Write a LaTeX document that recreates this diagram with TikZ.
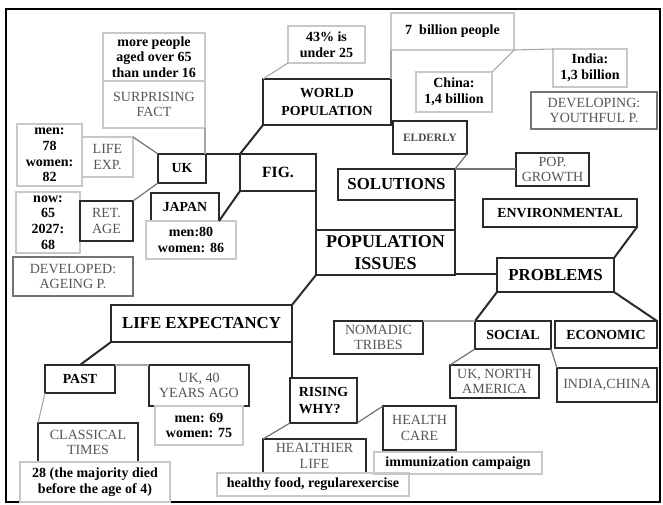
\documentclass[tikz,border=0pt]{standalone}
\usepackage{fontspec}
\setmainfont{Liberation Serif}
\definecolor{lt}{HTML}{C8C8C8}
\definecolor{gt}{HTML}{555555}
\definecolor{dk}{HTML}{2A2A2A}
\tikzset{
  every node/.style={inner sep=0pt, outer sep=0pt, align=center},
  lightbox/.style={draw=lt, line width=0.8pt},
  darkbox/.style={draw=dk, line width=1.5pt},
  heavybox/.style={draw=dk, line width=2.2pt},
  graybox/.style={draw=black!55, line width=1.8pt},
  data/.style={font=\bfseries\fontsize{10.5}{11.8}\selectfont, text=black},
  glabel/.style={font=\fontsize{10.5}{11.8}\selectfont, text=gt},
  title/.style={font=\bfseries\fontsize{10.4}{13}\selectfont},
  smalltitle/.style={font=\bfseries\fontsize{8.5}{10}\selectfont, text=black!70},
  bigish/.style={font=\bfseries\fontsize{11.7}{14}\selectfont},
  big/.style={font=\bfseries\fontsize{12.6}{15}\selectfont},
  huge/.style={font=\bfseries\fontsize{13.5}{16.3}\selectfont},
  darkline/.style={draw=dk, line width=1.5pt},
  midline/.style={draw=black!55, line width=0.9pt},
  lightline/.style={draw=black!35, line width=0.8pt},
}
\newcommand{\bx}[7]{%
  \pgfmathsetmacro{\mybw}{(#4-#2)*0.75}%
  \pgfmathsetmacro{\mybh}{(#5-#3)*0.75}%
  \node[#6, minimum width=\mybw pt, minimum height=\mybh pt] (#1) at ({(#2+#4)/2},{(#3+#5)/2}) {#7};}
\begin{document}
\begin{tikzpicture}[x=0.75pt,y=-0.75pt]
\useasboundingbox (0,0) rectangle (663,504);
\draw[line width=1.5pt, black] (6,9) rectangle (660,502);
% left cluster
\bx{more}{103}{33}{205}{81}{lightbox,data}{more people\\aged over 65\\than under 16}
\bx{surp}{103}{81}{205}{128}{lightbox,glabel}{SURPRISING\\FACT}
\bx{m78}{17}{124}{82}{186}{lightbox,data}{men:\\78\\women:\\82}
\bx{lexp}{82}{137}{133}{177}{lightbox,glabel}{LIFE\\EXP.}
\bx{uk}{158}{154}{206}{183}{darkbox,title}{UK}
\bx{fig}{240}{154}{316}{191}{darkbox,bigish}{FIG.}
\bx{now}{16}{192}{80}{253}{lightbox,data}{now:\\65\\2027:\\68}
\bx{ret}{80}{201}{133}{241}{darkbox,glabel}{RET.\\AGE}
\bx{japan}{151}{193}{219}{221}{darkbox,title}{JAPAN}
\bx{m80}{146}{221}{236}{259}{lightbox,data}{men:80\\women: 86}
\bx{devd}{13}{257}{133}{296}{graybox,glabel}{DEVELOPED:\\AGEING P.}
% top cluster
\bx{wp}{263}{79}{391}{125}{darkbox,title}{WORLD\\POPULATION}
\bx{p43}{288}{26}{365}{63}{lightbox,data}{43\% is\\under 25}
\bx{seven}{391}{13}{514}{50}{lightbox,data}{7\ \ billion people}
\bx{china}{416}{72}{492}{112}{lightbox,data}{China:\\1,4 billion}
\bx{india}{553}{49}{627}{87}{lightbox,data}{India:\\1,3 billion}
\bx{devg}{531}{92}{657}{129}{graybox,glabel}{DEVELOPING:\\YOUTHFUL P.}
\bx{eld}{393}{121}{467}{154}{darkbox,smalltitle}{ELDERLY}
\bx{sol}{338}{169}{455}{200}{heavybox,big}{SOLUTIONS}
\bx{pop}{516}{153}{589}{186}{darkbox,glabel}{POP.\\GROWTH}
\bx{env}{483}{199}{637}{227}{darkbox,title}{ENVIRONMENTAL}
% centre
\bx{issues}{316}{230}{455}{275}{heavybox,huge}{POPULATION\\ISSUES}
\bx{prob}{497}{258}{614}{292}{heavybox,big}{PROBLEMS}
\bx{le}{111}{305}{292}{342}{heavybox,big}{LIFE EXPECTANCY}
% bottom left
\bx{past}{45}{365}{115}{393}{darkbox,title}{PAST}
\bx{uk40}{149}{365}{249}{406}{darkbox,glabel}{UK, 40\\YEARS AGO}
\bx{m69}{155}{406}{243}{445}{lightbox,data}{men: 69\\women: 75}
\bx{class}{38}{423}{138}{462}{darkbox,glabel}{CLASSICAL\\TIMES}
\bx{t28}{20}{462}{170}{502}{lightbox,data}{28 (the majority died\\before the age of 4)}
\bx{rising}{290}{378}{357}{423}{darkbox,title,align=left}{RISING\\WHY?}
\bx{hlife}{263}{439}{366}{473}{darkbox,glabel}{HEALTHIER\\LIFE}
\bx{food}{217}{473}{409}{496}{lightbox,data}{healthy food, regularexercise}
\bx{hcare}{383}{406}{456}{450}{darkbox,glabel}{HEALTH\\CARE}
\bx{immu}{374}{452}{542}{474}{lightbox,data}{immunization campaign}
% bottom right
\bx{nom}{334}{321}{423}{354}{darkbox,glabel}{NOMADIC\\TRIBES}
\bx{social}{475}{321}{551}{349}{darkbox,title}{SOCIAL}
\bx{econ}{555}{321}{657}{348}{darkbox,title}{ECONOMIC}
\bx{ukna}{450}{365}{539}{398}{darkbox,glabel}{UK, NORTH\\AMERICA}
\bx{indch}{557}{368}{657}{402}{darkbox,glabel}{INDIA,CHINA}
% dark connectors
\draw[darkline] (uk.north east) -- (fig.north west);
\draw[darkline] (fig.north west) -- (wp.south west);
\draw[darkline] (japan.south east) -- (fig.south west);
\draw[darkline] (fig.south east) -- (issues.north west);
\draw[darkline] (sol.south east) -- (issues.north east);
\draw[darkline] (issues.south west) -- (le.north east);
\draw[darkline] (le.south west) -- (past.north);
\draw[darkline] (le.south east) -- (le.south east |- rising.north);
\draw[darkline] ([yshift=1pt]issues.south east) -- ([yshift=1pt]issues.south east -| prob.west);
\draw[darkline] (env.south east) -- (prob.north east);
\draw[darkline] (prob.south west) -- (social.north west);
\draw[darkline] (prob.south east) -- (econ.north east);
% light connectors
\draw[lightline] (surp.south east) -- (surp.south east |- uk.north);
\draw[midline] (lexp.north east) -- (uk.north west);
\draw[midline] (ret.north east) -- (uk.south west);
\draw[lightline] (p43.south west) -- (wp.north west);
\draw[lightline] (seven.south west) -- (wp.north east);
\draw[lightline] (seven.south east) -- (india.north west);
\draw[lightline] (seven.south east) -- (china.north east);
\draw[midline] (eld.south east) -- (sol.north east);
\draw[midline] (sol.north east) -- (sol.north east -| pop.west);
\draw[lightline] (past.north east) -- (uk40.north west);
\draw[lightline] (past.south west) -- (class.north west);
\draw[midline] (rising.south west) -- (hlife.north west);
\draw[midline] (rising.south east) -- (hcare.north west);
\draw[lightline] (nom.north east) -- (social.north west);
\draw[midline] (social.south west) -- (ukna.north west);
\draw[midline] (social.south east) -- (indch.north west);
\end{tikzpicture}
\end{document}
